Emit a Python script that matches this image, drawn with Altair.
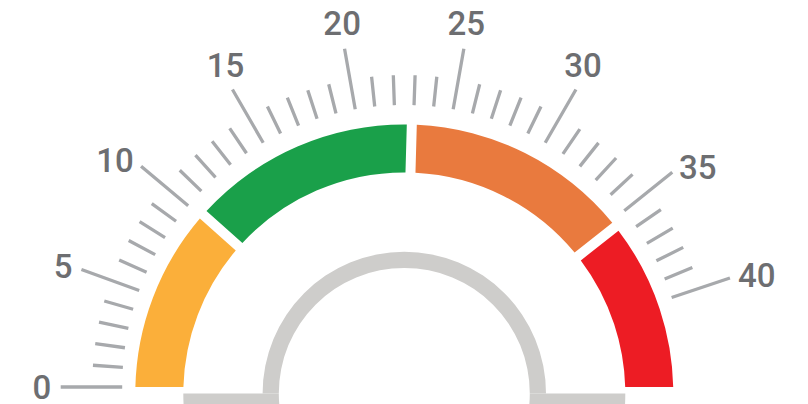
import math
import altair as alt
import pandas as pd

# ---------------- data ----------------
tick_values = list(range(0, 41))                 # one tick per unit, 0..40
label_values = [0, 5, 10, 15, 20, 25, 30, 35, 40]
band_names = ["low", "good", "high", "critical"]
band_starts = [0, 10.4, 22.9, 35.1]
band_ends = [10.4, 22.9, 35.1, 45]
band_colors = ["#FBAF3A", "#1AA04A", "#E97A3E", "#ED1C24"]

# ---------------- styling ----------------
TICK = "#A7A9AC"
LABEL = "#6D6E71"
GRAY = "#CECDCB"
TCX, TCY = 404.2, 387.0      # centre of the dial scale
BCX, BCY = 404.3, 393.4      # centre of the coloured bands / grey hub
TWO_PI = 2 * math.pi

theta_scale = alt.Scale(
    domain=[0, 30, 35, 40],
    range=[1.5 * math.pi,
           TWO_PI + math.radians(30),
           TWO_PI + math.radians(51.3),
           TWO_PI + math.radians(71.5)],
    nice=False, zero=False,
)

ticks_df = pd.DataFrame({"v": tick_values})
labels_df = pd.DataFrame({"v": label_values})
bands_df = pd.DataFrame({"name": band_names, "start": band_starts, "end": band_ends})
one = pd.DataFrame({"a": [0]})

tick_enc = dict(
    theta=alt.Theta("v:Q", scale=theta_scale, stack=None),
    theta2=alt.Theta2("v"),
    x=alt.value(TCX), y=alt.value(TCY),
)

minor = alt.Chart(ticks_df).transform_filter("datum.v % 5 != 0").mark_arc(
    innerRadius=282, outerRadius=312, stroke=TICK, strokeWidth=3.3, fillOpacity=0
).encode(**tick_enc)

major = alt.Chart(ticks_df).transform_filter("datum.v % 5 == 0").mark_arc(
    innerRadius=282, outerRadius=343.5, stroke=TICK, strokeWidth=3.3, fillOpacity=0
).encode(**tick_enc)

bands = alt.Chart(bands_df).mark_arc(
    innerRadius=221, outerRadius=269, padAngle=0.0287, clip=True
).encode(
    theta=alt.Theta("start:Q", scale=theta_scale, stack=None),
    theta2=alt.Theta2("end"),
    color=alt.Color("name:N", scale=alt.Scale(domain=band_names, range=band_colors), legend=None),
    x=alt.value(BCX), y=alt.value(BCY),
)

hub = alt.Chart(one).mark_arc(
    theta=1.5 * math.pi, theta2=2.5 * math.pi, innerRadius=125.5, outerRadius=141.7, color=GRAY
).encode(x=alt.value(BCX), y=alt.value(BCY))

base_left = alt.Chart(one).mark_arc(
    theta=1.5 * math.pi - 0.25, theta2=1.5 * math.pi, innerRadius=125.5, outerRadius=221, color=GRAY
).encode(x=alt.value(BCX), y=alt.value(BCY))

base_right = alt.Chart(one).mark_arc(
    theta=0.5 * math.pi, theta2=0.5 * math.pi + 0.25, innerRadius=125.5, outerRadius=221, color=GRAY
).encode(x=alt.value(BCX), y=alt.value(BCY))


def labels(filt, radius, align, baseline, dy=0):
    return alt.Chart(labels_df).transform_filter(filt).mark_text(
        font="Roboto", fontSize=33, fontWeight=500, color=LABEL,
        align=align, baseline=baseline, dy=dy,
    ).encode(
        theta=alt.Theta("v:Q", scale=theta_scale),
        radius=alt.value(radius),
        text=alt.Text("v:Q", format="d"),
        x=alt.value(TCX), y=alt.value(TCY),
    )


lab_left = labels("datum.v <= 10", 353, "right", "middle", 2)
lab_top = labels("datum.v >= 15 && datum.v <= 30", 357.5, "center", "alphabetic")
lab_right = labels("datum.v >= 35", 352, "left", "middle", 2)

chart = alt.layer(
    hub, base_left, base_right, bands, minor, major, lab_left, lab_top, lab_right
).properties(
    width=808, height=387, autosize="none",
    padding={"left": 0, "top": 0, "right": 0, "bottom": 17},
    background="white",
).configure_view(strokeWidth=0)

chart.save("out.html", embed_options={"renderer": "svg", "actions": False})
